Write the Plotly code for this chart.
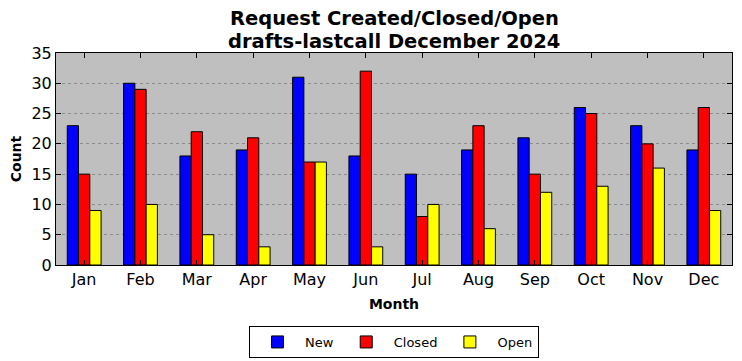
import plotly.graph_objects as go

months = ["Jan", "Feb", "Mar", "Apr", "May", "Jun", "Jul", "Aug", "Sep", "Oct", "Nov", "Dec"]
new_vals = [23, 30, 18, 19, 31, 18, 15, 19, 21, 26, 23, 19]
closed_vals = [15, 29, 22, 21, 17, 32, 8, 23, 15, 25, 20, 26]
open_vals = [9, 10, 5, 3, 17, 3, 10, 6, 12, 13, 16, 9]
y_ticks = [0, 5, 10, 15, 20, 25, 30, 35]
title_lines = ["Request Created/Closed/Open", "drafts-lastcall December 2024"]

font = "DejaVu Sans"
fig = go.Figure()
for name, vals, col in [("New", new_vals, "#0000ff"), ("Closed", closed_vals, "#ff0000"), ("Open", open_vals, "#ffff00")]:
    fig.add_trace(go.Bar(x=months, y=vals, name=name, marker=dict(color=col, line=dict(color="black", width=1))))

fig.update_layout(
    width=742, height=361,
    margin=dict(l=56, r=10, t=53, b=96, autoexpand=False),
    paper_bgcolor="white", plot_bgcolor="#bfbfbf",
    barmode="group", bargap=0.4, bargroupgap=0,
    font=dict(family=font, color="black"),
    legend=dict(orientation="h", x=0.5, xanchor="center", y=-61/212, yanchor="top",
                bordercolor="black", borderwidth=1, font=dict(size=13, family=font),
                bgcolor="white", itemwidth=45),
    showlegend=True,
    annotations=[
        dict(text="<b>%s</b>" % title_lines[0], xref="paper", yref="paper", x=0.5, y=1 + 35/212,
             xanchor="center", yanchor="middle", showarrow=False, font=dict(size=19.5, family=font)),
        dict(text="<b>%s</b>" % title_lines[1], xref="paper", yref="paper", x=0.5, y=1 + 12/212,
             xanchor="center", yanchor="middle", showarrow=False, font=dict(size=19.5, family=font)),
    ],
)
fig.update_xaxes(showline=True, linecolor="black", linewidth=1, mirror="ticks", automargin=False,
                 ticks="inside", ticklen=5, tickcolor="black", tickfont=dict(size=16),
                 title=dict(text="<b>Month</b>", font=dict(size=14), standoff=10),
                 range=[-0.5, 11.5])
fig.update_yaxes(showline=True, linecolor="black", linewidth=1, mirror="ticks", automargin=False,
                 ticks="inside", ticklen=5, tickcolor="black", tickfont=dict(size=16),
                 tickvals=y_ticks, range=[0, 35],
                 showgrid=True, gridcolor="#8c8c8c", griddash="dot", gridwidth=1,
                 title=dict(text="<b>Count</b>", font=dict(size=14), standoff=6),
                 zeroline=False)
fig.write_html("out.html", config={"displayModeBar": False},
               post_script="document.body.style.margin='0';")
